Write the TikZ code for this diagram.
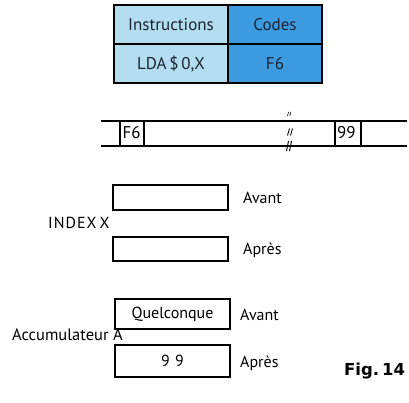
\documentclass[tikz,border=0pt]{standalone}
\usepackage{fontspec}
\setmainfont{PT Sans}
\newfontfamily\figfont{DejaVu Sans}
\definecolor{lightcell}{HTML}{B4DDF0}
\definecolor{darkcell}{HTML}{3C9BE0}
\definecolor{inktext}{HTML}{1B2433}
\begin{document}
\begin{tikzpicture}[x=1pt,y=-1pt,
  txt/.style={font=\fontsize{16}{18}\selectfont},
  cell/.style={font=\fontsize{17}{19}\selectfont,draw=black,line width=1.6pt,inner sep=0pt,minimum height=39pt,text=inktext},
  reg/.style={txt,draw=black,line width=1.5pt,inner sep=0pt,minimum width=115pt},
  lab/.style={txt,inner sep=0pt,anchor=west},
  tape/.style={line width=1.5pt},
  brk/.style={line width=0.9pt}]
\useasboundingbox (0,0) rectangle (409,403);
% table
\node[cell,fill=lightcell,minimum width=114pt] (ins) at (171,24.5) {Instructions};
\node[cell,fill=darkcell,minimum width=94pt] (cod) at (275,24.5) {Codes};
\node[cell,fill=lightcell,minimum width=114pt] (lda) at (171,63.5) {LDA\,\$\,0,X};
\node[cell,fill=darkcell,minimum width=94pt] (f6c) at (275,63.5) {F6};
% tape
\coordinate (tl) at (101,121);
\coordinate (tr) at (407,121);
\coordinate (bl) at (101,146);
\coordinate (br) at (407,146);
\draw[tape] (tl) -- (tr);
\draw[tape] (bl) -- (br);
\node[draw=none,inner sep=0pt,minimum width=24pt,minimum height=25pt] (cf6) at (132,133.5) {};
\node[draw=none,inner sep=0pt,minimum width=26pt,minimum height=25pt] (c99) at (348,133.5) {};
\draw[tape] (cf6.north west) -- (cf6.south west);
\draw[tape] (cf6.north east) -- (cf6.south east);
\draw[tape] (c99.north west) -- (c99.south west);
\draw[tape] (c99.north east) -- (c99.south east);
\node[lab,font=\fontsize{17}{19}\selectfont] (tf6) at (122.5,133) {F6};
\node[lab,font=\fontsize{17}{19}\selectfont] (t99) at (337,133) {99};
% break marks
\coordinate (bk) at (289,132);
\draw[brk] ([shift={(-1.5,3.5)}]bk) -- ([shift={(0.5,-3.5)}]bk);
\draw[brk] ([shift={(1.5,3.5)}]bk) -- ([shift={(3.5,-3.5)}]bk);
\draw[brk,line width=0.6pt] (287.5,116) -- (288.5,112) (289.8,116) -- (290.8,112);
\draw[brk] (286.5,151) -- (288.5,141) (289.5,151) -- (291.5,141);
% INDEX X
\node[reg,minimum height=25pt] (xav) at (170.5,197.5) {};
\node[reg,minimum height=24pt] (xap) at (170.5,249) {};
\node[lab] (xavl) at (243,197.5) {Avant};
\node[lab] (xapl) at (243,250) {Après};
\node[lab] (xname) at (48,223) {I\hspace{1pt}N\hspace{1pt}D\hspace{1pt}E\hspace{1pt}X\hspace{3pt}X};
% Accumulateur A
\node[reg,minimum height=30pt] (aav) at (172.5,314) {Quelconque};
\node[reg,minimum height=32pt] (aap) at (172.5,361) {9\,\,9};
\node[lab] (aavl) at (240,315) {Avant};
\node[lab] (aapl) at (240,363) {Après};
\node[lab,font=\fontsize{16.5}{18}\selectfont] (aname) at (12,335) {Accumulateur A};
% figure label
\node[lab,font=\figfont\bfseries\fontsize{16.5}{19}\selectfont] (fig) at (344,371) {Fig.\hspace{3pt}14};
\end{tikzpicture}
\end{document}
